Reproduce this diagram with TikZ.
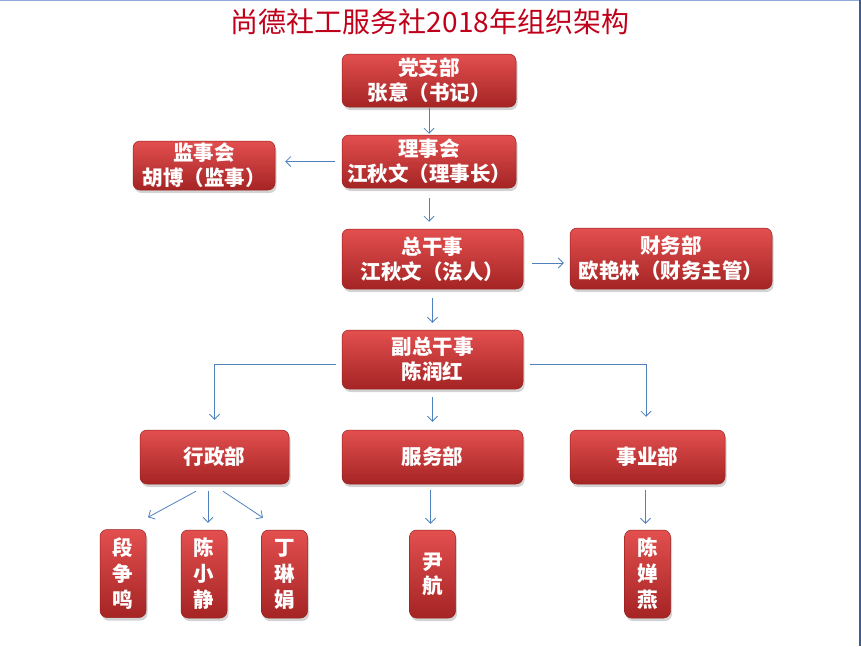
\documentclass[tikz,border=0pt]{standalone}
\usepackage{fontspec}
\setmainfont{Noto Sans CJK SC}
\usetikzlibrary{arrows.meta,shadows}
\definecolor{boxtop}{HTML}{E34F4F}
\definecolor{boxbot}{HTML}{A52424}
\definecolor{boxedge}{HTML}{982020}
\definecolor{arrblue}{HTML}{4F81BD}
\definecolor{titlered}{HTML}{C0001A}
\definecolor{frametop}{HTML}{8EAADB}
\definecolor{frameright}{HTML}{3A5F8F}
\begin{document}
\begin{tikzpicture}[x=1pt,y=-1pt,
  box/.style={rounded corners=7pt, draw=boxedge, line width=0.5pt,
    top color=boxtop, bottom color=boxbot, text=white, align=center,
    inner sep=0pt, font=\fontsize{20.5}{25}\selectfont\bfseries,
    drop shadow={opacity=0.35, shadow xshift=1.5pt, shadow yshift=-3pt}},
  vbox/.style={box, font=\fontsize{20.5}{26}\selectfont\bfseries,
    minimum width=46pt, minimum height=88pt},
  arr/.style={draw=arrblue, line width=0.8pt, -{Straight Barb[length=5pt,width=10pt]}}]
\useasboundingbox (0,0) rectangle (861,646);
\draw[frametop, line width=1.5pt] (0,0.5) -- (861,0.5);
\draw[frameright, line width=1.5pt] (860.2,0) -- (860.2,646);

\node[font=\fontsize{28}{30}\selectfont, text=titlered] (title) at (430,22) {尚德社工服务社2018年组织架构};

\node[box, minimum width=174pt, minimum height=53pt] (dzb) at (429,80.5) {党支部\\张意（书记）};
\node[box, minimum width=174pt, minimum height=53pt] (lsh) at (429,161.5) {理事会\\江秋文（理事长）};
\node[box, minimum width=142pt, minimum height=49pt] (jsh) at (204,165.5) {监事会\\胡博（监事）};
\node[box, minimum width=181pt, minimum height=60pt] (zgs) at (432.5,259) {总干事\\江秋文（法人）};
\node[box, minimum width=202pt, minimum height=61pt] (cwb) at (671,258.5) {财务部\\欧艳林（财务主管）};
\node[box, minimum width=181pt, minimum height=59pt] (fzgs) at (432.5,359.5) {副总干事\\陈润红};
\node[box, minimum width=149pt, minimum height=54pt] (xzb) at (214.5,457) {行政部};
\node[box, minimum width=181pt, minimum height=54pt] (fwb) at (432.5,457) {服务部};
\node[box, minimum width=155pt, minimum height=54pt] (syb) at (647.5,457) {事业部};

\node[vbox] (p1) at (123,573.5) {段\\争\\鸣};
\node[vbox] (p2) at (204,574) {陈\\小\\静};
\node[vbox] (p3) at (284.5,574) {丁\\琳\\娟};
\node[vbox, font=\fontsize{20.5}{24}\selectfont\bfseries] (p4) at (432.5,574) {尹\\航};
\node[vbox] (p5) at (647.5,574) {陈\\婵\\燕};

\draw[arr, shorten <=1pt, shorten >=1pt] (dzb.south) -- (lsh.north);
\draw[arr, shorten <=7pt, shorten >=10pt] (lsh.west) -- (jsh.east |- lsh.west);
\draw[arr, shorten <=10pt, shorten >=7pt] (lsh.south) -- (lsh.south |- zgs.north);
\draw[arr, shorten <=9pt, shorten >=6pt] ([yshift=-4pt]zgs.east) -- ([yshift=-4pt]zgs.east -| cwb.west);
\draw[arr, shorten <=9pt, shorten >=7pt] (zgs.south) -- (zgs.south |- fzgs.north);
\draw[arr, shorten <=6pt, shorten >=10pt] ([yshift=-5pt]fzgs.west) -| (xzb.north);
\draw[arr, shorten <=8pt, shorten >=8pt] (fzgs.south) -- (fwb.north);
\draw[arr, shorten <=7pt, shorten >=13pt] ([yshift=-4.5pt]fzgs.east) -| ([xshift=-1.5pt]syb.north);

\draw[arr] ([xshift=-18.5pt,yshift=-7pt]xzb.south) -- ([xshift=25pt,yshift=12pt]p1.north);
\draw[arr] ([xshift=-6.5pt,yshift=-7pt]xzb.south) -- ([xshift=4pt,yshift=7pt]p2.north);
\draw[arr] ([xshift=8.5pt,yshift=-7pt]xzb.south) -- ([xshift=-21.5pt,yshift=12pt]p3.north);
\draw[arr, shorten <=6pt, shorten >=6pt] ([xshift=-2pt]fwb.south) -- ([xshift=-2pt]p4.north);
\draw[arr, shorten <=6pt, shorten >=6pt] ([xshift=-2pt]syb.south) -- ([xshift=-2pt]p5.north);
\end{tikzpicture}
\end{document}
